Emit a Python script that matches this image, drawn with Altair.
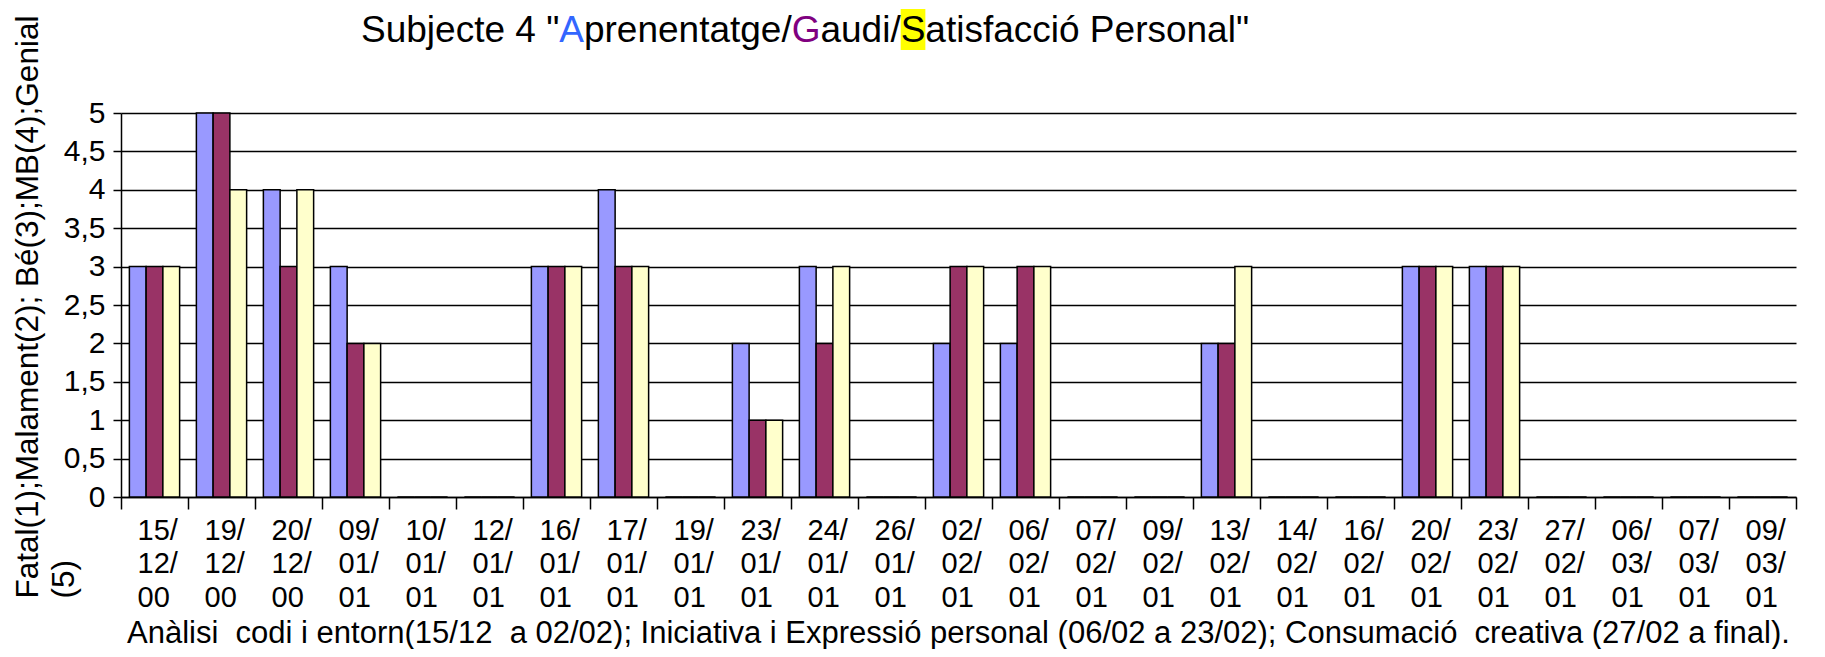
import altair as alt
import pandas as pd

# ---------------- data ----------------
dates = ["15/12/00", "19/12/00", "20/12/00", "09/01/01", "10/01/01", "12/01/01",
         "16/01/01", "17/01/01", "19/01/01", "23/01/01", "24/01/01", "26/01/01",
         "02/02/01", "06/02/01", "07/02/01", "09/02/01", "13/02/01", "14/02/01",
         "16/02/01", "20/02/01", "23/02/01", "27/02/01", "06/03/01", "07/03/01",
         "09/03/01"]
aprenentatge = [3, 5, 4, 3, 0, 0, 3, 4, 0, 2, 3, 0, 2, 2, 0, 0, 2, 0, 0, 3, 3, 0, 0, 0, 0]
gaudi        = [3, 5, 3, 2, 0, 0, 3, 3, 0, 1, 2, 0, 3, 3, 0, 0, 2, 0, 0, 3, 3, 0, 0, 0, 0]
satisfaccio  = [3, 4, 4, 2, 0, 0, 3, 3, 0, 1, 3, 0, 3, 3, 0, 0, 3, 0, 0, 3, 3, 0, 0, 0, 0]
series = ["Aprenentatge", "Gaudi", "Satisfacció Personal"]
series_colors = ["#9999FF", "#993366", "#FFFFCC"]
yticks = [0, 0.5, 1, 1.5, 2, 2.5, 3, 3.5, 4, 4.5, 5]

title_parts = ['Subjecte 4 "', 'A', 'prenentatge/', 'G', 'audi/', 'S', 'atisfacció Personal"']
title_colors = ["black", "#3366FF", "black", "#800080", "black", "black", "black"]
x_title = ("Anàlisi\u00a0 codi i entorn(15/12\u00a0 a 02/02); Iniciativa i Expressió personal "
           "(06/02 a 23/02); Consumació\u00a0 creativa (27/02 a final).")
y_title = ["Fatal(1);Malament(2); Bé(3);MB(4);Genial", "(5)"]

rows = []
for i, d in enumerate(dates):
    for s, vals in zip(series, [aprenentatge, gaudi, satisfaccio]):
        rows.append({"date": d, "serie": s, "value": vals[i]})
df = pd.DataFrame(rows)

# ---------------- layout ----------------
FONT = "Liberation Sans"
W, H = 1675, 384

# Arial / Liberation Sans advance widths (1/1000 em) for the title glyphs
AW = {' ': 278, '"': 355, '/': 278, '4': 556, 'S': 667, 'u': 556, 'b': 556, 'j': 222,
      'e': 556, 'c': 500, 't': 278, 'A': 667, 'p': 556, 'r': 333, 'n': 556, 'a': 556,
      'g': 556, 'G': 778, 'd': 556, 'i': 222, 's': 500, 'f': 278, 'ó': 556, 'P': 667,
      'o': 556, 'l': 222}
TFS = 37
title_x0 = 240
title_y = -71

def tw(s):
    return sum(AW.get(ch, 556) for ch in s) * TFS / 1000.0

layers = []
xcur = title_x0
one = pd.DataFrame({"k": [0]})
seg_x = []
for part in title_parts:
    seg_x.append(xcur)
    xcur += tw(part)

# yellow highlight behind the S
s_idx = 5
hl = alt.Chart(one).mark_rect(color="#FFFF00").encode(
    x=alt.value(seg_x[s_idx]), x2=alt.value(seg_x[s_idx] + tw(title_parts[s_idx])),
    y=alt.value(-104), y2=alt.value(title_y + 8))
layers.append(hl)

for part, col, xp in zip(title_parts, title_colors, seg_x):
    layers.append(
        alt.Chart(one).mark_text(align="left", baseline="alphabetic", font=FONT,
                                 fontSize=TFS, color=col, text=part)
        .encode(x=alt.value(xp), y=alt.value(title_y)))

bars = alt.Chart(df).mark_bar(stroke="black", strokeWidth=1.5).encode(
    x=alt.X("date:N", sort=dates,
            scale=alt.Scale(paddingInner=0, paddingOuter=0),
            axis=alt.Axis(
                title=x_title, titleFontSize=31, titleFontWeight="normal", titleColor="black",
                titleFont=FONT, titleX=837, titleY=145, titleAlign="center",
                titleBaseline="alphabetic", titleAnchor="middle",
                labelExpr="[slice(datum.label,0,3), slice(datum.label,3,6), slice(datum.label,6)]",
                labelAngle=0, labelAlign="left", labelOffset=-17.5, labelBaseline="alphabetic",
                labelPadding=30, labelLineHeight=33.5, labelFontSize=29, labelColor="black",
                labelFont=FONT, labelOverlap=False, labelFlush=False, labelBound=False,
                tickBand="extent", tickSize=12, tickWidth=1.5, tickColor="black",
                domainColor="black", domainWidth=1.5, grid=False)),
    xOffset=alt.XOffset("serie:N", sort=series,
                        scale=alt.Scale(paddingInner=0, paddingOuter=0.5)),
    y=alt.Y("value:Q", scale=alt.Scale(domain=[0, 5], nice=False, zero=True),
            axis=alt.Axis(
                values=yticks, format=".1~f", labelExpr="replace(datum.label, '.', ',')",
                labelFontSize=30, labelColor="black", labelFont=FONT, labelPadding=8,
                tickSize=8, tickWidth=1.5, tickColor="black",
                domainColor="black", domainWidth=1.5,
                grid=True, gridColor="black", gridWidth=1.3,
                title=y_title, titleFontSize=31.5, titleFontWeight="normal", titleColor="black",
                titleFont=FONT, titleAngle=270, titleAlign="left", titleBaseline="alphabetic",
                titleX=-84, titleY=485, titleLineHeight=36)),
    color=alt.Color("serie:N", sort=series,
                    scale=alt.Scale(domain=series, range=series_colors), legend=None),
)

chart = alt.layer(bars, *layers).properties(
    width=W, height=H,
    padding={"left": 113, "top": 105, "right": 21, "bottom": 152},
    autosize=alt.AutoSizeParams(type="none"),
).configure(font=FONT).configure_view(strokeWidth=0)

chart.save("out.html", embed_options={"renderer": "svg", "actions": False})
